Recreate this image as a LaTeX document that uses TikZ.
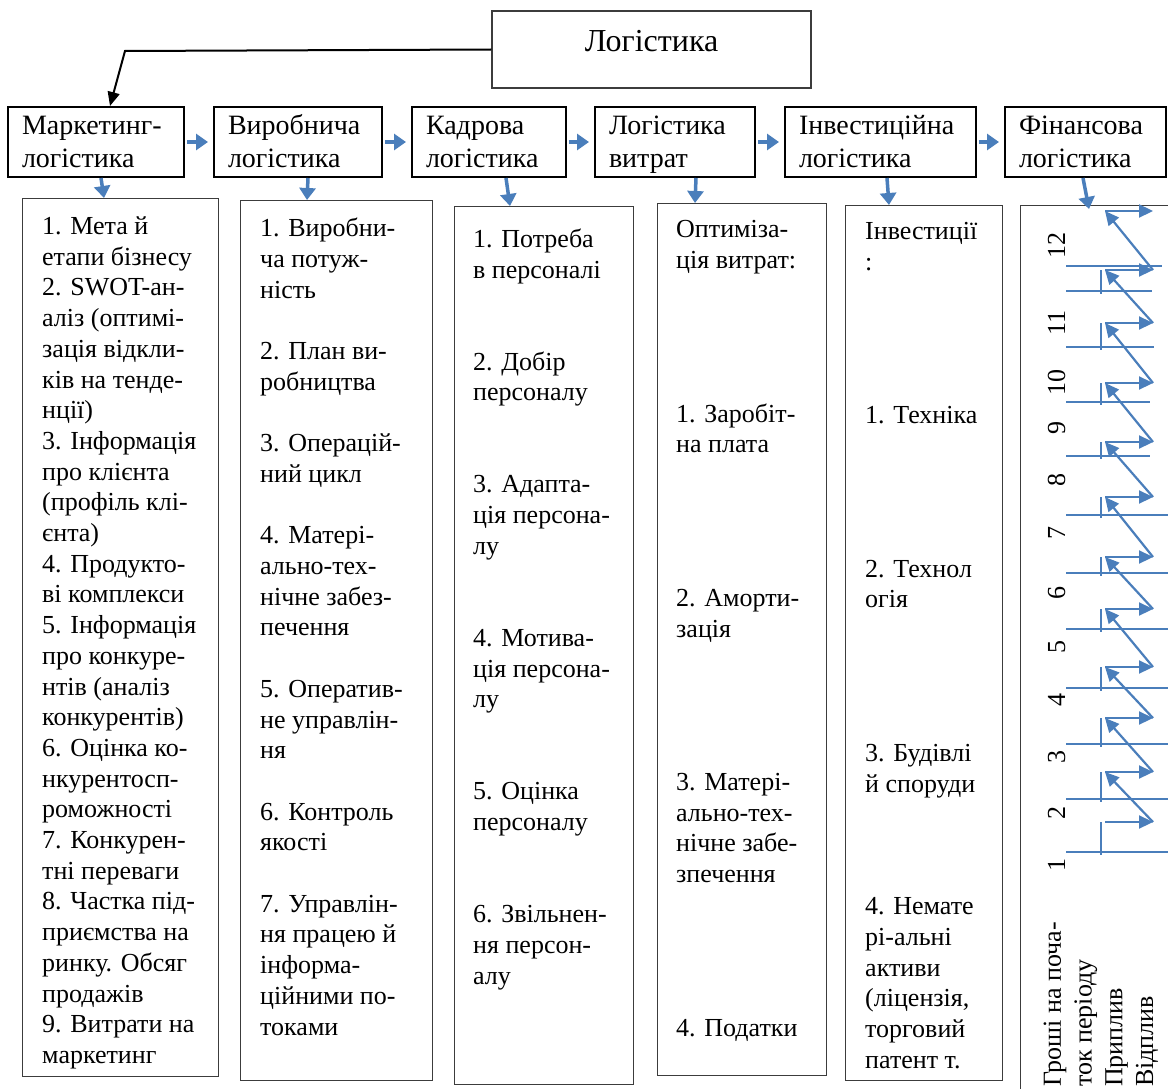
\documentclass[tikz,border=0pt]{standalone}
\usepackage{fontspec}
\setmainfont{Liberation Serif}
\usetikzlibrary{arrows.meta,positioning}
\definecolor{flowblue}{RGB}{74,126,187}
\definecolor{framegray}{RGB}{60,60,60}

\tikzset{
  lvl/.style={draw, line width=2pt, minimum height=70pt, inner xsep=14pt,
    text width=#1, align=left, font=\fontsize{28}{33}\selectfont,
    execute at begin node=\strut, execute at end node={\rule[-6pt]{0pt}{1pt}}},
  col/.style={draw=framegray, line width=0.9pt, anchor=north west, inner sep=0pt},
  txt/.style={anchor=north west, align=left, inner sep=0pt,
    font=\fontsize{26}{30.7}\selectfont, execute at begin node=\strut},
  vtxt/.style={txt, rotate=90},
  flow/.style={flowblue, line width=3.5pt, -{Triangle[length=12pt,width=16pt]}},
  zz/.style={flowblue, line width=2.2pt, -{Triangle[length=14pt,width=13pt]}},
  grid/.style={flowblue, line width=1.3pt},
}

\begin{document}
\begin{tikzpicture}[x=1pt,y=-1pt]
  \useasboundingbox (0,0) rectangle (1168,1089);
  % top box
  \node[draw=framegray, line width=1.3pt, minimum width=319pt, minimum height=77pt,
    text depth=18pt, font=\fontsize{32}{38}\selectfont] (L) at (651.5,49.5) {Логістика};

  % second row
  \node[lvl=148pt] (M) at (96,142) {Маркетинг-\\логістика};
  \node[lvl=140pt] (V) at (298,142) {Виробнича\\логістика};
  \node[lvl=126pt] (K) at (489,142) {Кадрова\\логістика};
  \node[lvl=132pt] (C) at (675,142) {Логістика\\витрат};
  \node[lvl=163pt] (I) at (880.5,142) {Інвестиційна\\логістика};
  \node[lvl=133pt] (F) at (1085.5,142) {Фінансова\\логістика};

  \coordinate (Lc) at (125,51);
  \draw[line width=2pt, -{Triangle[length=14pt,width=12pt]}] (L.west) -- (Lc) -- ([xshift=103pt]M.north west);

  \draw[flow, shorten <=2pt, shorten >=5pt] (M) -- (V);
  \draw[flow, shorten <=2pt, shorten >=5pt] (V) -- (K);
  \draw[flow, shorten <=2pt, shorten >=5pt] (K) -- (C);
  \draw[flow, shorten <=2pt, shorten >=5pt] (C) -- (I);
  \draw[flow, shorten <=2pt, shorten >=5pt] (I) -- (F);

  % columns
  \node[col, minimum width=196pt, minimum height=878pt] (M1) at (22,198) {};
  \node[col, minimum width=192pt, minimum height=880pt] (V1) at (240,200) {};
  \node[col, minimum width=179pt, minimum height=878pt] (K1) at (454,206) {};
  \node[col, minimum width=169pt, minimum height=872pt] (C1) at (657,203) {};
  \node[col, minimum width=157pt, minimum height=875pt] (I1) at (845,205) {};
  \node[col, minimum width=200pt, minimum height=900pt] (F1) at (1020,205) {};

  \draw[flow] ([xshift=94pt]M.south west) -- ([xshift=82pt]M1.north west);
  \draw[flow] ([xshift=95pt]V.south west) -- ([xshift=67pt]V1.north west);
  \draw[flow] ([xshift=95pt]K.south west) -- ([xshift=56pt]K1.north west);
  \draw[flow] ([xshift=102pt]C.south west) -- ([xshift=38pt]C1.north west);
  \draw[flow] ([xshift=103pt]I.south west) -- ([xshift=44pt]I1.north west);
  \draw[flow] ([xshift=79pt]F.south west) -- ([xshift=69pt,yshift=-4pt]F1.north west);

  \node[txt] (M1t) at (42,216.5) {1. Мета й\\етапи бізнесу\\2. SWOT-ан-\\аліз (оптимі-\\зація відкли-\\ків на тенде-\\нції)\\3. Інформація\\про клієнта\\(профіль клі-\\єнта)\\4. Продукто-\\ві комплекси\\5. Інформація\\про конкуре-\\нтів (аналіз\\конкурентів)\\6. Оцінка ко-\\нкурентосп-\\роможності\\7. Конкурен-\\тні переваги\\8. Частка під-\\приємства на\\ринку. Обсяг\\продажів\\9. Витрати на\\маркетинг};
  \node[txt] (V1t) at (260,218) {1. Виробни-\\ча потуж-\\ність\\~\\2. План ви-\\робництва\\~\\3. Операцій-\\ний цикл\\~\\4. Матері-\\ально-тех-\\нічне забез-\\печення\\~\\5. Оператив-\\не управлін-\\ня\\~\\6. Контроль\\якості\\~\\7. Управлін-\\ня працею й\\інформа-\\ційними по-\\токами};
  \node[txt] (K1t) at (473,228.5) {1. Потреба\\в персоналі\\~\\~\\2. Добір\\персоналу\\~\\~\\3. Адапта-\\ція персона-\\лу\\~\\~\\4. Мотива-\\ція персона-\\лу\\~\\~\\5. Оцінка\\персоналу\\~\\~\\6. Звільнен-\\ня персон-\\алу};
  \node[txt] (C1t) at (676,220.5) {Оптиміза-\\ція витрат:\\~\\~\\~\\~\\1. Заробіт-\\на плата\\~\\~\\~\\~\\2. Аморти-\\зація\\~\\~\\~\\~\\3. Матері-\\ально-тех-\\нічне забе-\\зпечення\\~\\~\\~\\~\\4. Податки};
  \node[txt] (I1t) at (865,222) {Інвестиції\\:\\~\\~\\~\\~\\1. Техніка\\~\\~\\~\\~\\2. Технол\\огія\\~\\~\\~\\~\\3. Будівлі\\й споруди\\~\\~\\~\\4. Немате\\рі-альні\\активи\\(ліцензія,\\торговий\\патент т.};

  % cash flow table, turned
  \foreach \y/\e in {266/1162, 291/1152, 347/1154, 402/1150, 456/1150, 515/1168, 573/1168, 629/1168, 688/1168, 744/1168, 799/1168, 852/1168}
    \draw[grid] (1066,\y) -- (\e,\y);
  \foreach \a/\b in {270/294, 323/350, 383/405, 442/459, 497/518, 557/576, 609/632, 667/691, 718/747, 772/802, 822/855}
    \draw[grid] (1101,\a) -- (1101,\b);
  \foreach \n/\y in {12/245, 11/323, 10/382, 9/428, 8/480, 7/533, 6/593, 5/647, 4/700, 3/757, 2/813, 1/865}
    \node[vtxt, anchor=base] (n\n) at (1065,\y) {\n};
  \node[vtxt] (Fh) at (1043.5,1087) {Гроші на поча-\\ток періоду\\Приплив\\Відплив};

  \foreach \y [count=\i] in {211,270,323,383,442,497,557,609,667,718,772,822}{
    \coordinate (zl\i) at (1105,\y);
    \coordinate (zr\i) at (1153,\y);
  }
  \foreach \i in {1,...,12}
    \draw[zz] (zl\i) -- (zr\i);
  \foreach \i [evaluate=\i as \j using int(\i+1)] in {1,...,11}
    \draw[zz] (zr\j) -- (zl\i);
\end{tikzpicture}
\end{document}
